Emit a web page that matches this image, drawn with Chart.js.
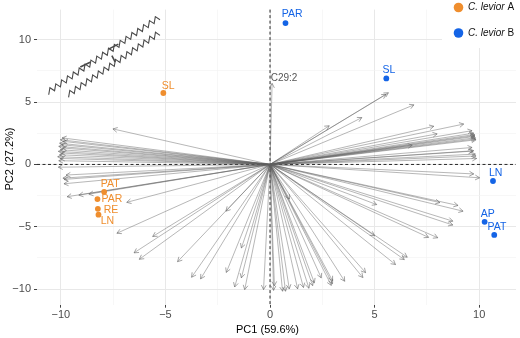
<!DOCTYPE html>
<html>
<head>
<meta charset="utf-8">
<script src="https://cdn.jsdelivr.net/npm/chart.js@4.4.1/dist/chart.umd.min.js"></script>
<style>
  html, body { margin: 0; padding: 0; background: #fff; }
</style>
</head>
<body>
<canvas id="chart" width="520" height="338"></canvas>
<script>
// group names and colours for the legend:
const groupNames = ['C. levior A', 'C. levior B'];
const groupColors = ['#EF8E2E', '#1464E6'];

// axis titles:
const xTitle = 'PC1 (59.6%)';
const yTitle = 'PC2 (27.2%)';

// sample scores, C. levior A:
const samplesA = ['SL', 'PAT', 'PAR', 'RE', 'LN'];
const pc1A = [-5.10, -7.93, -8.25, -8.23, -8.20];
const pc2A = [5.73, -2.20, -2.78, -3.56, -4.03];
const labelXA = [-4.87, -7.64, -7.56, -7.60, -7.77];
const labelYA = [6.30, -1.60, -2.78, -3.69, -4.55];

// sample scores, C. levior B:
const samplesB = ['PAR', 'SL', 'LN', 'AP', 'PAT'];
const pc1B = [0.74, 5.56, 10.66, 10.26, 10.72];
const pc2B = [11.34, 6.90, -1.33, -4.60, -5.65];
const labelXB = [1.06, 5.69, 10.79, 10.41, 10.85];
const labelYB = [12.08, 7.55, -0.68, -3.95, -5.05];

// loading arrows (tips), one per compound:
const loadX = [
  -7.51, -9.94, -10.02, -9.88, -10.06, -9.96, -10.10, -9.92, -10.02, -10.12,
  -9.97, -10.06, -10.15, -10.02, -10.10, -10.12, -9.75, -9.90, -9.85, -9.85,
  -9.70, -9.14, -8.66, -6.85, -7.32, -5.61, -6.50, -6.25, -4.42, -2.11,
  -3.75, -3.32, -2.09, -1.37, -1.37, -1.69, -1.21, -0.31, 0.17, 0.21,
  0.60, 0.74, 0.92, 0.93, 1.32, 1.60, 1.86, 2.04, 2.12, 2.45,
  2.93, 2.99, 2.99, 3.57, 4.44, 4.57, 6.00, 6.42, 6.56, 5.00,
  7.58, 8.02, 8.74, 8.74, 9.23, 8.99, 8.12, 5.10, 10.02, 9.74,
  9.88, 9.85, 9.82, 9.69, 9.74, 9.66, 6.80, 9.85, 9.82, 9.79,
  9.74, 9.66, 9.26, 7.99, 7.83, 9.78, 9.80, 9.83, 2.83, 4.39,
  6.88, 5.55, 5.66, 0.10
];
const loadY = [
  2.85, 2.13, 1.98, 1.85, 1.70, 1.58, 1.45, 1.32, 1.18, 1.05,
  0.92, 0.78, 0.62, 0.48, 0.30, -0.22, -0.85, -1.10, -1.20, -1.55,
  -2.59, -2.46, -2.38, -3.04, -5.52, -5.78, -7.09, -7.61, -7.80, -3.75,
  -9.05, -9.18, -8.66, -6.70, -9.10, -9.83, -10.04, -10.04, -10.10, -9.74,
  -10.17, -10.17, -9.98, -2.78, -9.98, -9.87, -9.93, -9.72, -9.50, -9.10,
  -9.70, -9.57, -9.33, -9.37, -9.07, -8.68, -8.03, -7.63, -7.44, -5.72,
  -5.85, -5.88, -4.86, -4.55, -3.75, -3.29, -3.06, -3.22, -1.07, -0.76,
  0.48, 0.68, 0.83, 1.07, 1.10, 1.36, 1.54, 1.98, 2.14, 2.32,
  2.51, 2.71, 3.24, 2.45, 3.06, 2.40, 2.25, 2.05, 3.10, 3.76,
  4.78, 5.62, 5.75, 6.50
];
const loadLabel = 'C29:2';
const loadLabelX = 0.67;
const loadLabelY = 6.95;

// molecule sketch in the upper left (two chains, data coordinates):
const chainStartX = [-10.58, -9.63];
const chainStartY = [5.59, 5.38];
const chainEndX = [-5.26, -5.26];
const chainEndY = [11.61, 10.35];
const chainTeeth = [19, 16];
const bondX1 = [-9.07, -7.72, -7.56];
const bondY1 = [7.81, 9.25, 8.73];
const bondX2 = [-8.60, -7.25, -7.40];
const bondY2 = [8.20, 9.65, 8.20];

// axis ranges:
const xMin = -11.14, xMax = 11.76;
const yMin = -11.25, yMax = 12.42;

const fontFamily = '"Liberation Sans", Arial, sans-serif';

function isStep(v, step) {
  return Math.abs(v / step - Math.round(v / step)) < 1e-6;
}
function tickText(v) {
  if (!isStep(v, 5)) return '';
  let r = Math.round(v);
  return r < 0 ? '\u2212' + Math.abs(r) : String(r);
}

const datasets = [];
// the sample points:
datasets.push({
  label: groupNames[0],
  data: pc1A.map((x, i) => ({ x: x, y: pc2A[i] })),
  backgroundColor: groupColors[0],
  borderWidth: 0,
  pointRadius: 2.9,
  order: 0
});
datasets.push({
  label: groupNames[1],
  data: pc1B.map((x, i) => ({ x: x, y: pc2B[i] })),
  backgroundColor: groupColors[1],
  borderWidth: 0,
  pointRadius: 2.9,
  order: 0
});
// one line per loading arrow:
for (let i = 0; i < loadX.length; i++) {
  datasets.push({
    label: 'arrow' + i,
    data: [{ x: 0, y: 0 }, { x: loadX[i], y: loadY[i] }],
    showLine: true,
    borderColor: 'rgba(95,95,95,0.6)',
    borderWidth: 0.75,
    pointRadius: 0,
    order: 1
  });
}

const biplotPlugin = {
  id: 'biplot',
  beforeDatasetsDraw(chart) {
    const ctx = chart.ctx;
    const xs = chart.scales.x, ys = chart.scales.y;
    const a = chart.chartArea;
    // dashed zero lines:
    ctx.save();
    ctx.strokeStyle = '#111';
    ctx.lineWidth = 0.9;
    ctx.setLineDash([3, 2.5]);
    ctx.beginPath();
    let px = xs.getPixelForValue(0), py = ys.getPixelForValue(0);
    ctx.moveTo(px, a.top); ctx.lineTo(px, a.bottom);
    ctx.moveTo(a.left, py); ctx.lineTo(a.right, py);
    ctx.stroke();
    ctx.restore();
  },
  afterDatasetsDraw(chart) {
    const ctx = chart.ctx;
    const xs = chart.scales.x, ys = chart.scales.y;
    const ox = xs.getPixelForValue(0), oy = ys.getPixelForValue(0);
    ctx.save();
    // arrow heads:
    ctx.strokeStyle = 'rgba(95,95,95,0.75)';
    ctx.lineWidth = 0.75;
    for (let i = 0; i < loadX.length; i++) {
      let tx = xs.getPixelForValue(loadX[i]);
      let ty = ys.getPixelForValue(loadY[i]);
      let ang = Math.atan2(ty - oy, tx - ox);
      ctx.beginPath();
      ctx.moveTo(tx - 5 * Math.cos(ang - 0.5), ty - 5 * Math.sin(ang - 0.5));
      ctx.lineTo(tx, ty);
      ctx.lineTo(tx - 5 * Math.cos(ang + 0.5), ty - 5 * Math.sin(ang + 0.5));
      ctx.stroke();
    }
    // molecule chains:
    ctx.strokeStyle = '#4a4a4a';
    ctx.lineWidth = 1.1;
    for (let c = 0; c < chainStartX.length; c++) {
      let sx = xs.getPixelForValue(chainStartX[c]), sy = ys.getPixelForValue(chainStartY[c]);
      let ex = xs.getPixelForValue(chainEndX[c]), ey = ys.getPixelForValue(chainEndY[c]);
      let n = chainTeeth[c];
      ctx.beginPath();
      ctx.moveTo(sx, sy);
      for (let k = 0; k < n; k++) {
        let bx = sx + (ex - sx) * k / n, by = sy + (ey - sy) * k / n;
        let nx = sx + (ex - sx) * (k + 1) / n, ny = sy + (ey - sy) * (k + 1) / n;
        ctx.lineTo(bx + 1.2, by - 7);
        ctx.lineTo(nx, ny);
      }
      ctx.stroke();
    }
    ctx.lineWidth = 1.6;
    ctx.beginPath();
    for (let b = 0; b < bondX1.length; b++) {
      ctx.moveTo(xs.getPixelForValue(bondX1[b]), ys.getPixelForValue(bondY1[b]));
      ctx.lineTo(xs.getPixelForValue(bondX2[b]), ys.getPixelForValue(bondY2[b]));
    }
    ctx.stroke();
    // text labels:
    ctx.textAlign = 'center';
    ctx.textBaseline = 'middle';
    ctx.font = '10.5px ' + fontFamily;
    ctx.fillStyle = groupColors[0];
    samplesA.forEach((s, i) => ctx.fillText(s, xs.getPixelForValue(labelXA[i]), ys.getPixelForValue(labelYA[i])));
    ctx.fillStyle = groupColors[1];
    samplesB.forEach((s, i) => ctx.fillText(s, xs.getPixelForValue(labelXB[i]), ys.getPixelForValue(labelYB[i])));
    ctx.fillStyle = '#555';
    ctx.font = '10px ' + fontFamily;
    ctx.fillText(loadLabel, xs.getPixelForValue(loadLabelX), ys.getPixelForValue(loadLabelY));
    ctx.restore();
  },
  afterDraw(chart) {
    const ctx = chart.ctx;
    ctx.save();
    // axis titles:
    ctx.fillStyle = '#000';
    ctx.font = '11px ' + fontFamily;
    ctx.textAlign = 'center';
    ctx.textBaseline = 'middle';
    ctx.fillText(xTitle, 267.5, 329.5);
    ctx.save();
    ctx.translate(10, 159);
    ctx.rotate(-Math.PI / 2);
    ctx.fillText(yTitle, 0, 0);
    ctx.restore();
    // legend, inside the top right of the panel:
    ctx.fillStyle = '#fff';
    ctx.fillRect(442, 0, 78, 48);
    ctx.textAlign = 'left';
    const ys0 = [7.5, 33];
    for (let g = 0; g < groupNames.length; g++) {
      ctx.fillStyle = groupColors[g];
      ctx.beginPath();
      ctx.arc(458.5, ys0[g], 4.8, 0, Math.PI * 2);
      ctx.fill();
      let parts = groupNames[g].split(' ');
      let species = parts.slice(0, 2).join(' ');
      let tag = ' ' + parts[2];
      ctx.fillStyle = '#111';
      ctx.font = 'italic 10px ' + fontFamily;
      ctx.fillText(species, 468, ys0[g]);
      let w = ctx.measureText(species).width;
      ctx.font = '10px ' + fontFamily;
      ctx.fillText(tag, 468 + w, ys0[g]);
    }
    ctx.restore();
  }
};

const gridColor = (c) => isStep(c.tick.value, 5) ? '#e8e8e8' : (isStep(c.tick.value, 2.5) ? '#f2f2f2' : 'rgba(0,0,0,0)');
const gridWidth = (c) => isStep(c.tick.value, 5) ? 1 : 0.6;
const tickColor = (c) => isStep(c.tick.value, 5) ? '#444' : 'rgba(0,0,0,0)';

new Chart(document.getElementById('chart'), {
  type: 'scatter',
  data: { datasets: datasets },
  plugins: [biplotPlugin],
  options: {
    responsive: false,
    animation: false,
    devicePixelRatio: 1,
    layout: { padding: { top: 3, right: 2.5, left: 0, bottom: 0 } },
    plugins: { legend: { display: false }, tooltip: { enabled: false } },
    scales: {
      x: {
        type: 'linear',
        min: xMin, max: xMax,
        afterFit: (s) => { s.height = 33.3; },
        border: { display: false },
        grid: { color: gridColor, lineWidth: gridWidth, tickColor: tickColor, tickLength: 3 },
        ticks: {
          stepSize: 2.5, autoSkip: false, includeBounds: false, maxRotation: 0, padding: 1,
          color: '#4d4d4d', font: { size: 11, family: fontFamily },
          callback: tickText
        }
      },
      y: {
        type: 'linear',
        min: yMin, max: yMax,
        afterFit: (s) => { s.width = 37; },
        border: { display: false },
        grid: { color: gridColor, lineWidth: gridWidth, tickColor: tickColor, tickLength: 3 },
        ticks: {
          stepSize: 2.5, autoSkip: false, includeBounds: false, padding: 3,
          color: '#4d4d4d', font: { size: 11, family: fontFamily },
          callback: tickText
        }
      }
    }
  }
});
</script>
</body>
</html>
